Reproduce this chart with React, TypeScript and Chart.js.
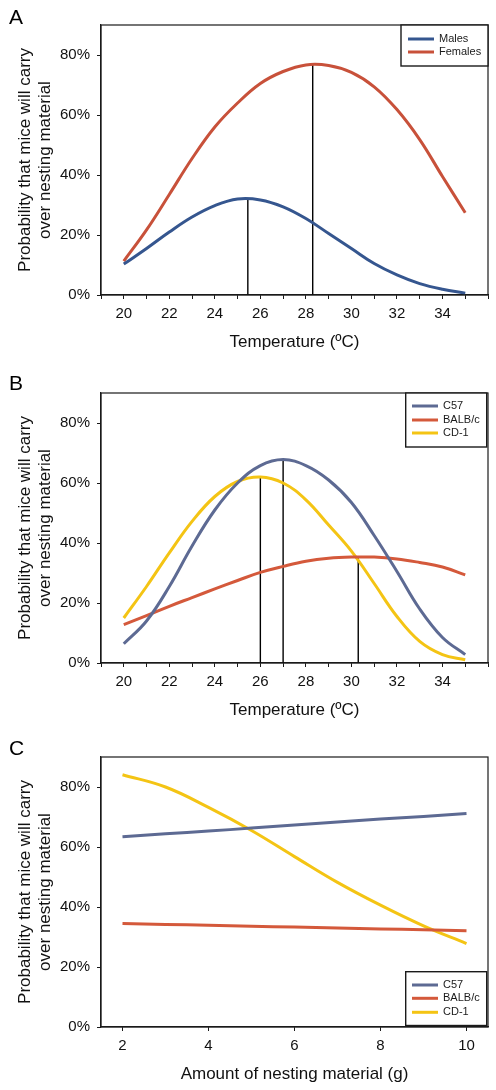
import React, { useEffect, useRef } from 'react';
import { Chart, registerables } from 'chart.js';

Chart.register(...registerables);

const FONT = '"Liberation Sans", Arial, Helvetica, sans-serif';

// ---------- Panel A: sex ----------
const temperatureA = [20, 21, 22, 23, 24, 25, 26, 27, 28, 29, 30, 31, 32, 33, 34, 35];
const malesA = [10.3, 15.5, 21, 26, 29.8, 32, 31.7, 29.4, 25.5, 20.5, 15.5, 10.5, 6.7, 3.8, 1.9, 0.6];
const femalesA = [11.3, 21.7, 33.5, 45.5, 56, 64, 70.5, 74.5, 76.7, 76.5, 74.2, 69.4, 61.8, 51.8, 39.5, 27.4];
const peakTempA = [25.45, 28.3];
const peakProbA = [32.2, 76.9];
const seriesNamesA = ['Males', 'Females'];

// ---------- Panel B: strain vs temperature ----------
const temperatureB = [20, 21, 22, 23, 24, 25, 26, 27, 28, 29, 30, 31, 32, 33, 34, 35];
const c57B = [6.4, 14, 25.5, 39, 51, 60, 65.8, 67.8, 65.8, 61, 53.5, 42.5, 30.5, 18, 8.5, 2.8];
const balbB = [12.8, 15.8, 18.9, 21.8, 24.7, 27.5, 30.2, 32.2, 33.9, 34.9, 35.3, 35.3, 34.7, 33.5, 32, 29.4];
const cd1B = [15, 25.5, 36.7, 47.2, 55.5, 60.5, 62, 60, 54.4, 46, 37.3, 26.5, 15.5, 7.2, 2.8, 1.1];
const peakTempB = [26, 27, 30.3];
const peakProbB = [61.7, 67.8, 35.3];
const seriesNamesB = ['C57', 'BALB/c', 'CD-1'];

// ---------- Panel C: strain vs nesting material ----------
const nestingC = [2, 3, 4, 5, 6, 7, 8, 9, 10];
const c57C = [63.4, 64.4, 65.3, 66.3, 67.3, 68.3, 69.3, 70.2, 71.2];
const balbC = [34.5, 34.2, 33.9, 33.6, 33.3, 33.0, 32.7, 32.4, 32.1];
const cd1C = [84.1, 80.0, 73.2, 65.5, 56.8, 48.2, 40.6, 33.7, 27.8];
const xTicksC = [2, 4, 6, 8, 10];
const seriesNamesC = ['C57', 'BALB/c', 'CD-1'];

const yTicks = [0, 20, 40, 60, 80];
const yTitle = ['Probability that mice will carry', 'over nesting material'];

const COLORS = {
  males: '#35568f',
  females: '#c8513a',
  c57: '#5d6a93',
  balb: '#d4593b',
  cd1: '#f4c414',
};

const framePlugin = {
  id: 'frame',
  afterDatasetsDraw(chart: any) {
    const { ctx, chartArea: a } = chart;
    ctx.save();
    ctx.strokeStyle = '#1a1a1a';
    ctx.lineWidth = 1.2;
    ctx.strokeRect(a.left, a.top, a.right - a.left, a.bottom - a.top);
    ctx.restore();
  },
};

const boxLegendPlugin = {
  id: 'boxLegend',
  afterDraw(chart: any, _args: any, opts: any) {
    const { ctx } = chart;
    const { box, lineX1, lineX2, textX, ys, items } = opts;
    ctx.save();
    ctx.fillStyle = '#ffffff';
    ctx.fillRect(box[0], box[1], box[2] - box[0], box[3] - box[1]);
    ctx.strokeStyle = '#1a1a1a';
    ctx.lineWidth = 1.4;
    ctx.strokeRect(box[0], box[1], box[2] - box[0], box[3] - box[1]);
    ctx.font = `11px ${FONT}`;
    ctx.textBaseline = 'middle';
    ctx.textAlign = 'left';
    items.forEach((it: any, i: number) => {
      ctx.strokeStyle = it.color;
      ctx.lineWidth = 3;
      ctx.beginPath();
      ctx.moveTo(lineX1, ys[i]);
      ctx.lineTo(lineX2, ys[i]);
      ctx.stroke();
      ctx.fillStyle = '#1a1a1a';
      ctx.fillText(it.label, textX, ys[i]);
    });
    ctx.restore();
  },
};

const panelLabelPlugin = {
  id: 'panelLabel',
  afterDraw(chart: any, _args: any, opts: any) {
    const { ctx } = chart;
    ctx.save();
    ctx.font = `21px ${FONT}`;
    ctx.fillStyle = '#000';
    ctx.textBaseline = 'alphabetic';
    ctx.textAlign = 'left';
    ctx.fillText(opts.text, opts.x, opts.y);
    ctx.restore();
  },
};

function curve(label: string, xs: number[], ys: number[], color: string) {
  return {
    label,
    data: xs.map((x, i) => ({ x, y: ys[i] })),
    borderColor: color,
    backgroundColor: color,
    borderWidth: 3,
    pointRadius: 0,
    tension: 0.4,
    fill: false,
  };
}

function drops(xs: number[], ys: number[]) {
  return xs.map((x, i) => ({
    label: '',
    data: [
      { x, y: 0 },
      { x, y: ys[i] },
    ],
    borderColor: '#000',
    borderWidth: 1.4,
    pointRadius: 0,
    tension: 0,
    fill: false,
  }));
}

function buildConfig(p: {
  datasets: any[];
  xMin: number;
  xMax: number;
  xTitle: string;
  xTickValues?: number[];
  xLabelFilter: (v: number) => boolean;
  legend: any;
  label: any;
}) {
  return {
    type: 'line' as const,
    data: { datasets: p.datasets },
    plugins: [framePlugin, boxLegendPlugin, panelLabelPlugin],
    options: {
      responsive: false,
      animation: false as const,
      events: [],
      layout: { padding: { top: 25, right: 8, left: 0, bottom: 0 } },
      plugins: {
        legend: { display: false },
        tooltip: { enabled: false },
        boxLegend: p.legend,
        panelLabel: p.label,
      },
      scales: {
        x: {
          type: 'linear' as const,
          min: p.xMin,
          max: p.xMax,
          afterFit: (s: any) => {
            s.height = 63;
          },
          afterBuildTicks: (s: any) => {
            if (p.xTickValues) s.ticks = p.xTickValues.map((v) => ({ value: v }));
          },
          ticks: {
            stepSize: 1,
            autoSkip: false,
            maxRotation: 0,
            padding: 6,
            color: '#111',
            font: { family: FONT, size: 15 },
            callback: (v: any) => (p.xLabelFilter(Number(v)) ? String(v) : ''),
          },
          grid: { display: true, drawOnChartArea: false, drawTicks: true, tickLength: 4, color: '#1a1a1a', lineWidth: 1 },
          border: { display: true, color: '#1a1a1a', width: 1.2 },
          title: {
            display: true,
            text: p.xTitle,
            color: '#111',
            font: { family: FONT, size: 17, lineHeight: 1.18 },
            padding: { top: 0, bottom: 6 },
          },
        },
        y: {
          type: 'linear' as const,
          min: 0,
          max: 90,
          afterFit: (s: any) => {
            s.width = 101;
          },
          afterBuildTicks: (s: any) => {
            s.ticks = yTicks.map((v) => ({ value: v }));
          },
          ticks: {
            padding: 7,
            color: '#111',
            font: { family: FONT, size: 15 },
            callback: (v: any) => `${v}%`,
          },
          grid: { display: true, drawOnChartArea: false, drawTicks: true, tickLength: 4, color: '#1a1a1a', lineWidth: 1 },
          border: { display: true, color: '#1a1a1a', width: 1.2 },
          title: {
            display: true,
            text: yTitle,
            color: '#111',
            font: { family: FONT, size: 17, lineHeight: 1.18 },
            padding: { top: 15, bottom: 0 },
          },
        },
      },
    },
  };
}

function Panel({ top, height, config }: { top: number; height: number; config: () => any }) {
  const ref = useRef<HTMLCanvasElement>(null);
  useEffect(() => {
    const chart = new Chart(ref.current as HTMLCanvasElement, config());
    return () => chart.destroy();
  }, []);
  return (
    <canvas
      ref={ref}
      width={496}
      height={height}
      style={{ position: 'absolute', left: 0, top, width: 496, height, display: 'block' }}
    />
  );
}

const evenTemp = (v: number) => v >= 20 && v <= 34 && v % 2 === 0;

export default function App() {
  const configA = () =>
    buildConfig({
      datasets: [
        curve(seriesNamesA[0], temperatureA, malesA, COLORS.males),
        curve(seriesNamesA[1], temperatureA, femalesA, COLORS.females),
        ...drops(peakTempA, peakProbA),
      ],
      xMin: 19,
      xMax: 36,
      xTitle: 'Temperature (ºC)',
      xLabelFilter: evenTemp,
      legend: {
        box: [401, 25, 488, 66],
        lineX1: 408,
        lineX2: 434,
        textX: 439,
        ys: [39, 52],
        items: [
          { label: seriesNamesA[0], color: COLORS.males },
          { label: seriesNamesA[1], color: COLORS.females },
        ],
      },
      label: { text: 'A', x: 9, y: 24 },
    });

  const configB = () =>
    buildConfig({
      datasets: [
        curve(seriesNamesB[0], temperatureB, c57B, COLORS.c57),
        curve(seriesNamesB[1], temperatureB, balbB, COLORS.balb),
        curve(seriesNamesB[2], temperatureB, cd1B, COLORS.cd1),
        ...drops(peakTempB, peakProbB),
      ],
      xMin: 19,
      xMax: 36,
      xTitle: 'Temperature (ºC)',
      xLabelFilter: evenTemp,
      legend: {
        box: [405.7, 25, 486.7, 79],
        lineX1: 412,
        lineX2: 438,
        textX: 443,
        ys: [38, 52, 65],
        items: [
          { label: seriesNamesB[0], color: COLORS.c57 },
          { label: seriesNamesB[1], color: COLORS.balb },
          { label: seriesNamesB[2], color: COLORS.cd1 },
        ],
      },
      label: { text: 'B', x: 9, y: 22 },
    });

  const configC = () =>
    buildConfig({
      datasets: [
        curve(seriesNamesC[0], nestingC, c57C, COLORS.c57),
        curve(seriesNamesC[1], nestingC, balbC, COLORS.balb),
        curve(seriesNamesC[2], nestingC, cd1C, COLORS.cd1),
      ],
      xMin: 1.5,
      xMax: 10.5,
      xTitle: 'Amount of nesting material (g)',
      xTickValues: xTicksC,
      xLabelFilter: () => true,
      legend: {
        box: [405.7, 239.7, 486.7, 293.5],
        lineX1: 412,
        lineX2: 438,
        textX: 443,
        ys: [253, 266.3, 280.3],
        items: [
          { label: seriesNamesC[0], color: COLORS.c57 },
          { label: seriesNamesC[1], color: COLORS.balb },
          { label: seriesNamesC[2], color: COLORS.cd1 },
        ],
      },
      label: { text: 'C', x: 9, y: 23 },
    });

  return (
    <div style={{ position: 'absolute', left: 0, top: 0, width: 496, height: 1090, background: '#fff' }}>
      <Panel top={0} height={358} config={configA} />
      <Panel top={368} height={358} config={configB} />
      <Panel top={732} height={358} config={configC} />
    </div>
  );
}
